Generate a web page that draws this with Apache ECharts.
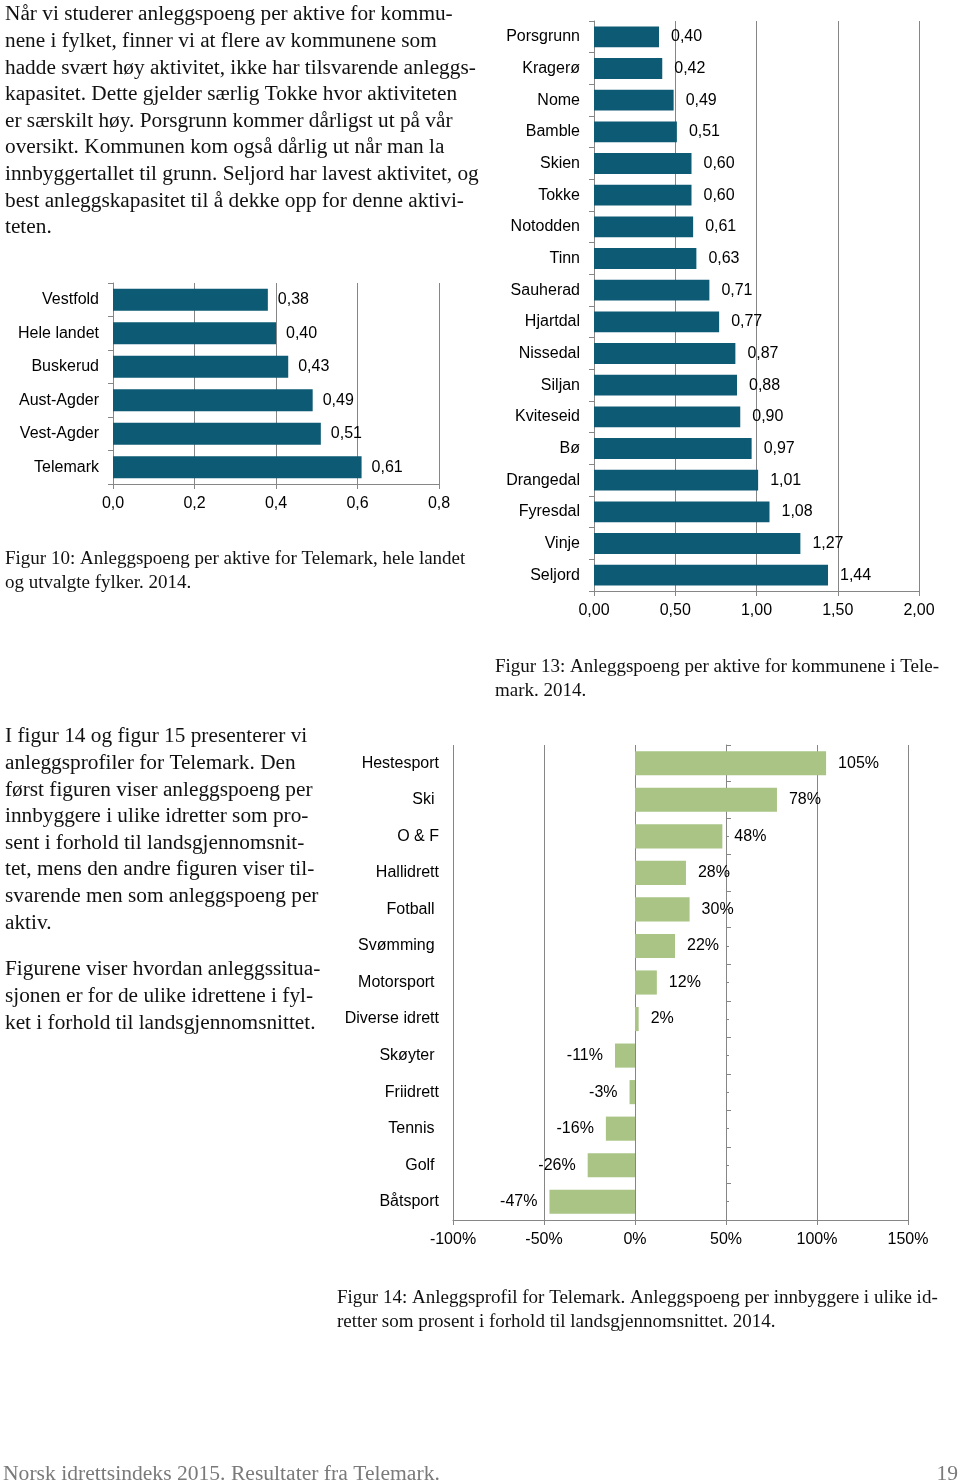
<!DOCTYPE html>
<html>
<head>
<meta charset="utf-8">
<style>
  html, body { margin: 0; padding: 0; background: #fff; }
  #page { width: 960px; height: 1482px; }
</style>
<script src="https://cdn.jsdelivr.net/npm/echarts@6/dist/echarts.min.js"></script>
</head>
<body>
<div id="page"></div>
<script>
// ---------- Data ----------
// Figur 10
var fylkeNames  = ['Vestfold', 'Hele landet', 'Buskerud', 'Aust-Agder', 'Vest-Agder', 'Telemark'];
var fylkeValues = [0.38, 0.40, 0.43, 0.49, 0.51, 0.61];
var fylkeTicks  = [0, 0.2, 0.4, 0.6, 0.8];

// Figur 13
var kommuneNames  = ['Porsgrunn', 'Kragerø', 'Nome', 'Bamble', 'Skien', 'Tokke', 'Notodden', 'Tinn',
                     'Sauherad', 'Hjartdal', 'Nissedal', 'Siljan', 'Kviteseid', 'Bø', 'Drangedal',
                     'Fyresdal', 'Vinje', 'Seljord'];
var kommuneValues = [0.40, 0.42, 0.49, 0.51, 0.60, 0.60, 0.61, 0.63, 0.71, 0.77, 0.87, 0.88, 0.90,
                     0.97, 1.01, 1.08, 1.27, 1.44];
var kommuneTicks  = [0, 0.5, 1.0, 1.5, 2.0];

// Figur 14 (prosent)
var idrettNames  = ['Hestesport', 'Ski ', 'O & F', 'Hallidrett', 'Fotball ', 'Svømming ', 'Motorsport ',
                    'Diverse idrett', 'Skøyter ', 'Friidrett', 'Tennis ', 'Golf ', 'Båtsport'];
var idrettValues = [105, 78, 48, 28, 30, 22, 12, 2, -11, -3, -16, -26, -47];
var idrettTicks  = [-100, -50, 0, 50, 100, 150];

// ---------- Text ----------
var para1 = [
  'Når vi studerer anleggspoeng per aktive for kommu-',
  'nene i fylket, finner vi at flere av kommunene som',
  'hadde svært høy aktivitet, ikke har tilsvarende anleggs-',
  'kapasitet. Dette gjelder særlig Tokke hvor aktiviteten',
  'er særskilt høy. Porsgrunn kommer dårligst ut på vår',
  'oversikt. Kommunen kom også dårlig ut når man la',
  'innbyggertallet til grunn. Seljord har lavest aktivitet, og',
  'best anleggskapasitet til å dekke opp for denne aktivi-',
  'teten.'
];
var para2 = [
  'I figur 14 og figur 15 presenterer vi',
  'anleggsprofiler for Telemark. Den',
  'først figuren viser anleggspoeng per',
  'innbyggere i ulike idretter som pro-',
  'sent i forhold til landsgjennomsnit-',
  'tet, mens den andre figuren viser til-',
  'svarende men som anleggspoeng per',
  'aktiv.'
];
var para3 = [
  'Figurene viser hvordan anleggssitua-',
  'sjonen er for de ulike idrettene i fyl-',
  'ket i forhold til landsgjennomsnittet.'
];
var cap10 = ['Figur 10: Anleggspoeng per aktive for Telemark, hele landet', 'og utvalgte fylker. 2014.'];
var cap13 = ['Figur 13: Anleggspoeng per aktive for kommunene i Tele-', 'mark. 2014.'];
var cap14 = ['Figur 14: Anleggsprofil for Telemark. Anleggspoeng per innbyggere i ulike id-',
             'retter som prosent i forhold til landsgjennomsnittet. 2014.'];
var footerLeft = 'Norsk idrettsindeks 2015. Resultater fra Telemark.';
var footerRight = '19';

// ---------- Styles ----------
var BLUE = '#0c5a73';
var GREEN = '#a9c484';
var GRAY = '#868686';
var SANS = '"Liberation Sans", Arial, sans-serif';
var SERIF = '"Liberation Serif", "Times New Roman", serif';
var bodyFont = '21.3px ' + SERIF;
var capFont = '19px ' + SERIF;
var footFont = '21.6px ' + SERIF;

function comma(v, d) { return v.toFixed(d).replace('.', ','); }

var grids = [
  { left: 113, top: 283, width: 326, height: 201 },
  { left: 594, top: 21,  width: 325, height: 570 },
  { left: 453, top: 745, width: 455, height: 475 }
];

function valueAxis(gi, ticks, fmt) {
  return {
    gridIndex: gi, type: 'value',
    min: ticks[0], max: ticks[ticks.length - 1], interval: ticks[1] - ticks[0],
    axisLine: { show: true, onZero: false, lineStyle: { color: GRAY, width: 1 } },
    axisTick: { show: true, length: 5, lineStyle: { color: GRAY } },
    splitLine: { show: true, lineStyle: { color: GRAY, width: 1 } },
    axisLabel: { color: '#000', fontFamily: SANS, fontSize: 16, margin: 11.5, formatter: fmt }
  };
}
function catAxis(gi, names) {
  return {
    gridIndex: gi, type: 'category', data: names, inverse: true,
    axisLine: { show: true, onZero: false, lineStyle: { color: GRAY, width: 1 } },
    axisTick: { show: true, length: 5, lineStyle: { color: GRAY } },
    axisLabel: { color: '#000', fontFamily: SANS, fontSize: 16, margin: 14 }
  };
}

// zero position offset for figure 14 axis line
var zeroOffset = -(0 - idrettTicks[0]) / (idrettTicks[idrettTicks.length - 1] - idrettTicks[0]) * grids[2].width;

function textBlock(lines, x, y, font, lh, fill) {
  return {
    type: 'text', x: x, y: y, silent: true,
    style: { text: lines.join('\n'), font: font, lineHeight: lh, fill: fill || '#111',
             align: 'left', verticalAlign: 'top' }
  };
}

var option = {
  animation: false,
  backgroundColor: '#fff',
  grid: grids.map(function (g) { return Object.assign({ containLabel: false }, g); }),
  xAxis: [
    valueAxis(0, fylkeTicks, function (v) { return comma(v, 1); }),
    valueAxis(1, kommuneTicks, function (v) { return comma(v, 2); }),
    valueAxis(2, idrettTicks, function (v) { return v + '%'; })
  ],
  yAxis: [
    catAxis(0, fylkeNames),
    catAxis(1, kommuneNames),
    Object.assign(catAxis(2, idrettNames), { axisLine: { show: false, onZero: false }, axisTick: { show: false } }),
    Object.assign(catAxis(2, idrettNames), { offset: zeroOffset, axisLabel: { show: false } }),
    Object.assign(catAxis(2, idrettNames), { offset: zeroOffset, axisLabel: { show: false },
      axisLine: { show: false, onZero: false },
      axisTick: { show: true, alignWithLabel: true, length: 3, lineStyle: { color: GRAY } } })
  ],
  series: [
    {
      type: 'bar', xAxisIndex: 0, yAxisIndex: 0, data: fylkeValues, barWidth: '66%',
      itemStyle: { color: BLUE },
      label: { show: true, position: 'right', distance: 10, color: '#000', fontFamily: SANS, fontSize: 16,
               formatter: function (p) { return comma(p.value, 2); } }
    },
    {
      type: 'bar', xAxisIndex: 1, yAxisIndex: 1, data: kommuneValues, barWidth: '66%',
      itemStyle: { color: BLUE },
      label: { show: true, position: 'right', distance: 12, color: '#000', fontFamily: SANS, fontSize: 16,
               formatter: function (p) { return comma(p.value, 2); } }
    },
    {
      type: 'bar', xAxisIndex: 2, yAxisIndex: 2,
      data: idrettValues.map(function (v) { return { value: v, label: { position: v < 0 ? 'left' : 'right' } }; }),
      barWidth: '66%',
      itemStyle: { color: GREEN },
      label: { show: true, distance: 12, color: '#000', fontFamily: SANS, fontSize: 16,
               formatter: function (p) { return p.value + '%'; } }
    }
  ],
  graphic: [
    textBlock(para1, 5, 1.5, bodyFont, 26.6),
    textBlock(cap10, 5, 547, capFont, 24),
    textBlock(cap13, 495, 655, capFont, 24),
    textBlock(para2, 5, 723.5, bodyFont, 26.6),
    textBlock(para3, 5, 956.5, bodyFont, 26.6),
    textBlock(cap14, 337, 1286, capFont, 24),
    textBlock([footerLeft], 3, 1461.5, footFont, 26, '#7a7a7a'),
    { type: 'text', x: 958, y: 1461.5, silent: true,
      style: { text: footerRight, font: footFont, fill: '#7a7a7a', align: 'right', verticalAlign: 'top', lineHeight: 26 } }
  ]
};

var chart = echarts.init(document.getElementById('page'), null, { renderer: 'canvas', width: 960, height: 1482 });
chart.setOption(option);
</script>
</body>
</html>
